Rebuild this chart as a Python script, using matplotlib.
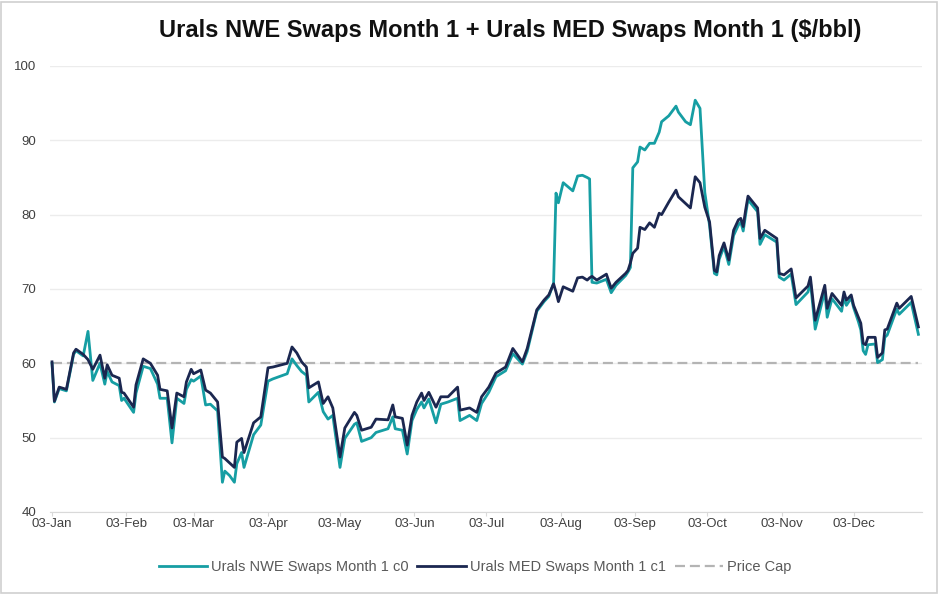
import numpy as np
import pandas as pd
import matplotlib
matplotlib.use("Agg")
from matplotlib import pyplot as plt
import matplotlib.dates as mdates
from matplotlib.patches import Rectangle

plt.rcParams["font.family"] = ["Liberation Sans", "DejaVu Sans"]

# data (2023, $/bbl)
dates = [
    "2023-01-03", "2023-01-04", "2023-01-06", "2023-01-09", "2023-01-12", "2023-01-13", "2023-01-16",
    "2023-01-18", "2023-01-20", "2023-01-23", "2023-01-25", "2023-01-26", "2023-01-28", "2023-01-31",
    "2023-02-01", "2023-02-02", "2023-02-06", "2023-02-07", "2023-02-10", "2023-02-13", "2023-02-16",
    "2023-02-17", "2023-02-20", "2023-02-22", "2023-02-24", "2023-02-27", "2023-02-28",
    "2023-03-02", "2023-03-03", "2023-03-06", "2023-03-08", "2023-03-10", "2023-03-13", "2023-03-15",
    "2023-03-16", "2023-03-18", "2023-03-20", "2023-03-21", "2023-03-23", "2023-03-24", "2023-03-28",
    "2023-03-31",
    "2023-04-03", "2023-04-05", "2023-04-11", "2023-04-13", "2023-04-15", "2023-04-17", "2023-04-19",
    "2023-04-20", "2023-04-24", "2023-04-26", "2023-04-28", "2023-04-30",
    "2023-05-03", "2023-05-05", "2023-05-09", "2023-05-10", "2023-05-12", "2023-05-16", "2023-05-18",
    "2023-05-23", "2023-05-25", "2023-05-26", "2023-05-29", "2023-05-31",
    "2023-06-02", "2023-06-04", "2023-06-06", "2023-06-07", "2023-06-09", "2023-06-12", "2023-06-14",
    "2023-06-17", "2023-06-21", "2023-06-22", "2023-06-26", "2023-06-29",
    "2023-07-01", "2023-07-04", "2023-07-07", "2023-07-11", "2023-07-14", "2023-07-18", "2023-07-20",
    "2023-07-24", "2023-07-27", "2023-07-29", "2023-07-31",
    "2023-08-01", "2023-08-02", "2023-08-04", "2023-08-08", "2023-08-10", "2023-08-12", "2023-08-14",
    "2023-08-15", "2023-08-16", "2023-08-18", "2023-08-22", "2023-08-24", "2023-08-26", "2023-08-30",
    "2023-08-31",
    "2023-09-01", "2023-09-02", "2023-09-04", "2023-09-05", "2023-09-07", "2023-09-09", "2023-09-11",
    "2023-09-13", "2023-09-14", "2023-09-17", "2023-09-20", "2023-09-21", "2023-09-24", "2023-09-26",
    "2023-09-28", "2023-09-30",
    "2023-10-02", "2023-10-04", "2023-10-06", "2023-10-07", "2023-10-08", "2023-10-10", "2023-10-12",
    "2023-10-14", "2023-10-16", "2023-10-17", "2023-10-18", "2023-10-19", "2023-10-20", "2023-10-24",
    "2023-10-25", "2023-10-27",
    "2023-11-01", "2023-11-02", "2023-11-04", "2023-11-07", "2023-11-09", "2023-11-14", "2023-11-15",
    "2023-11-17", "2023-11-21", "2023-11-22", "2023-11-24", "2023-11-28", "2023-11-29", "2023-11-30",
    "2023-12-02", "2023-12-03", "2023-12-05", "2023-12-06", "2023-12-07", "2023-12-08", "2023-12-09",
    "2023-12-12", "2023-12-13", "2023-12-15", "2023-12-16", "2023-12-17", "2023-12-21", "2023-12-22",
    "2023-12-27", "2023-12-30",
]

nwe_c0 = [
    60.0, 54.8, 56.6, 56.3, 61.2, 61.7, 61.0, 64.3, 57.7, 60.0, 57.2, 58.9, 57.5, 57.0,
    55.0, 55.3, 53.4, 56.0, 59.6, 59.3, 57.2, 55.3, 55.3, 49.3, 55.3, 54.6, 56.5,
    57.8, 57.6, 58.3, 54.4, 54.5, 53.6, 44.0, 45.5, 44.9, 44.0, 46.5, 48.0, 46.0, 50.4, 51.7,
    57.6, 57.9, 58.6, 60.6, 59.7, 58.9, 58.4, 54.8, 56.1, 53.5, 52.5, 53.0,
    46.0, 49.9, 51.8, 52.0, 49.5, 50.0, 50.7, 51.2, 52.8, 51.2, 51.0, 47.8,
    52.3, 53.8, 54.8, 54.0, 55.2, 52.0, 54.5, 54.8, 55.3, 52.3, 53.0, 52.3,
    54.6, 56.1, 58.2, 59.0, 61.3, 59.9, 61.6, 67.0, 68.3, 69.0, 70.8,
    82.9, 81.6, 84.3, 83.2, 85.2, 85.3, 85.0, 84.8, 70.9, 70.8, 71.3, 69.5, 70.5, 71.8, 72.3,
    72.9, 86.3, 87.1, 89.1, 88.7, 89.6, 89.6, 91.1, 92.5, 93.3, 94.6, 93.8, 92.5, 92.1, 95.4, 94.3,
    83.0, 78.5, 72.1, 71.9, 74.0, 75.7, 73.3, 77.2, 78.6, 79.0, 77.8, 80.0, 82.0, 80.4, 76.0, 77.3,
    76.3, 71.6, 71.2, 72.0, 67.9, 69.6, 71.0, 64.6, 69.7, 66.2, 68.7, 67.0, 68.9, 67.8,
    68.8, 67.5, 65.6, 64.5, 61.7, 61.2, 62.5, 62.6, 60.1, 60.5, 63.5, 63.8, 67.3, 66.6, 68.2, 63.9,
]

med_c1 = [
    60.2, 54.9, 56.8, 56.5, 61.4, 61.9, 61.2, 60.5, 59.2, 61.1, 58.0, 59.8, 58.4, 58.0,
    56.1, 56.0, 54.1, 57.1, 60.6, 60.0, 58.4, 56.5, 56.3, 51.3, 56.0, 55.5, 57.5,
    59.2, 58.6, 59.1, 56.4, 56.0, 54.8, 47.4, 47.2, 46.6, 46.0, 49.4, 49.9, 48.0, 52.0, 52.8,
    59.4, 59.5, 60.0, 62.2, 61.4, 60.2, 59.5, 56.7, 57.5, 54.6, 55.5, 54.0,
    47.4, 51.3, 53.4, 53.0, 51.0, 51.4, 52.5, 52.4, 54.4, 52.8, 52.6, 49.0,
    53.0, 54.8, 56.0, 55.0, 56.1, 54.1, 55.5, 55.5, 56.8, 53.7, 54.0, 53.4,
    55.5, 56.8, 58.7, 59.5, 62.0, 60.2, 62.0, 67.2, 68.5, 69.2, 70.7,
    69.6, 68.3, 70.3, 69.7, 71.5, 71.6, 71.2, 71.5, 71.7, 71.2, 72.0, 70.1, 70.9, 72.1, 72.5,
    73.5, 74.8, 75.5, 78.3, 78.0, 78.9, 78.3, 80.2, 80.0, 81.7, 83.3, 82.4, 81.5, 80.9, 85.1, 84.3,
    81.0, 79.0, 72.5, 72.3, 74.5, 76.2, 73.9, 77.9, 79.3, 79.5, 78.4, 80.6, 82.5, 80.9, 76.8, 77.9,
    76.8, 72.1, 71.9, 72.7, 68.8, 70.4, 71.6, 65.8, 70.5, 67.4, 69.4, 67.8, 69.6, 68.5,
    69.2, 67.8, 66.2, 65.4, 62.7, 62.5, 63.5, 63.5, 60.8, 61.4, 64.5, 64.6, 68.1, 67.4, 69.0, 64.9,
]

price_cap = 60

x = pd.to_datetime(dates)

fig = plt.figure(figsize=(9.4, 5.94), dpi=100)
ax = fig.add_axes([50 / 940, 1 - 512 / 594, 872 / 940, 446 / 594])

ax.plot(x, nwe_c0, color="#169ea3", lw=2.0, label="Urals NWE Swaps Month 1 c0", zorder=3)
ax.plot(x, med_c1, color="#1b2750", lw=2.0, label="Urals MED Swaps Month 1 c1", zorder=4)
ax.plot(x, np.full(len(x), price_cap), color="#b4b4b4", lw=1.6, ls=(0, (4.5, 2.2)),
        label="Price Cap", zorder=2)

ax.set_ylim(40, 100)
ax.set_yticks(range(40, 101, 10))
ax.set_xlim(pd.Timestamp("2023-01-02 04:00"), pd.Timestamp("2023-12-31 12:00"))
ax.set_xticks(pd.date_range("2023-01-01", periods=12, freq="MS") + pd.Timedelta(days=2))
ax.xaxis.set_major_formatter(mdates.DateFormatter("%d-%b"))

ax.grid(axis="y", color="#ececec", lw=1)
ax.set_axisbelow(True)
for s in ["top", "right", "left"]:
    ax.spines[s].set_visible(False)
ax.spines["bottom"].set_color("#d9d9d9")
ax.tick_params(axis="y", length=0, pad=10, labelsize=9.5, labelcolor="#404040")
ax.tick_params(axis="x", length=3, color="#d9d9d9", pad=1, labelsize=9.5, labelcolor="#404040")

fig.text(510 / 940, 1 - 31 / 594, "Urals NWE Swaps Month 1 + Urals MED Swaps Month 1 ($/bbl)",
         ha="center", va="center", fontsize=17, fontweight="bold", color="#111111")

fig.legend(loc="center", bbox_to_anchor=(475 / 940, 1 - 567 / 594), ncol=3, frameon=False,
           fontsize=10.5, handlelength=3.3, columnspacing=0.6, handletextpad=0.3,
           labelcolor="#595959")

fig.patches.append(Rectangle((0.001, 0.002), 0.996, 0.995, transform=fig.transFigure,
                             fill=False, edgecolor="#cfcfcf", lw=1.2))

fig.savefig("out.png", dpi=100)
